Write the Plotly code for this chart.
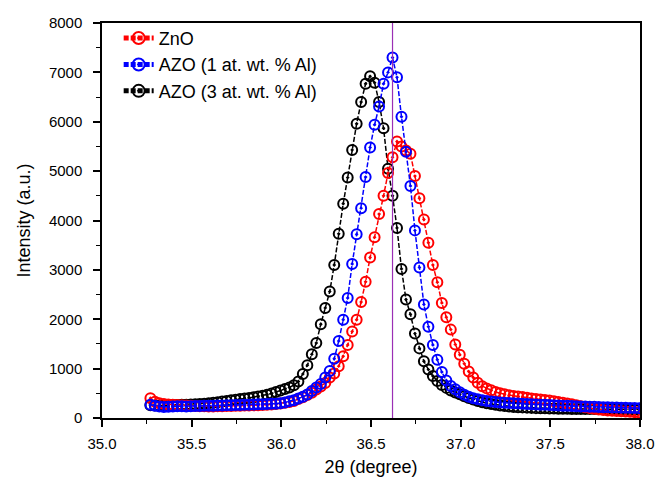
import plotly.graph_objects as go

# 2-theta positions (degree)
theta = [35.27, 35.295, 35.32, 35.345, 35.37, 35.395, 35.42, 35.445, 35.47, 35.495,
         35.52, 35.545, 35.57, 35.595, 35.62, 35.645, 35.67, 35.695, 35.72, 35.745,
         35.77, 35.795, 35.82, 35.845, 35.87, 35.895, 35.92, 35.945, 35.97, 35.995,
         36.02, 36.045, 36.07, 36.095, 36.12, 36.145, 36.17, 36.195, 36.22, 36.245,
         36.27, 36.295, 36.32, 36.345, 36.37, 36.395, 36.42, 36.445, 36.47, 36.495,
         36.52, 36.545, 36.57, 36.595, 36.62, 36.645, 36.67, 36.695, 36.72, 36.745,
         36.77, 36.795, 36.82, 36.845, 36.87, 36.895, 36.92, 36.945, 36.97, 36.995,
         37.02, 37.045, 37.07, 37.095, 37.12, 37.145, 37.17, 37.195, 37.22, 37.245,
         37.27, 37.295, 37.32, 37.345, 37.37, 37.395, 37.42, 37.445, 37.47, 37.495,
         37.52, 37.545, 37.57, 37.595, 37.62, 37.645, 37.67, 37.695, 37.72, 37.745,
         37.77, 37.795, 37.82, 37.845, 37.87, 37.895, 37.92, 37.945, 37.97, 37.995]

zno = [400, 330, 300, 285, 275, 270, 265, 260, 255, 250,
       245, 240, 240, 235, 235, 240, 240, 245, 245, 250,
       250, 255, 255, 260, 260, 265, 270, 275, 285, 295,
       310, 325, 345, 385, 420, 465, 510, 575, 640, 710,
       820, 900, 1050, 1250, 1480, 1750, 1990, 2350, 2760, 3250,
       3660, 4130, 4500, 4960, 5280, 5600, 5500, 5420, 5350, 4900,
       4450, 4020, 3550, 3100, 2750, 2330, 2040, 1790, 1490, 1280,
       1100, 940, 820, 715, 645, 600, 560, 525, 500, 480,
       460, 445, 435, 425, 410, 395, 385, 375, 365, 355,
       340, 325, 310, 295, 280, 260, 240, 220, 200, 185,
       170, 160, 150, 145, 140, 135, 130, 125, 120, 115]

azo1 = [270, 250, 235, 225, 230, 235, 240, 240, 235, 240,
        245, 245, 250, 250, 250, 255, 255, 260, 260, 265,
        265, 270, 270, 275, 280, 280, 285, 290, 290, 300,
        315, 340, 360, 395, 430, 475, 545, 620, 690, 820,
        950, 1200, 1560, 1990, 2430, 3120, 3720, 4250, 4880, 5480,
        5940, 6310, 6770, 7000, 7300, 6900, 6100, 5390, 4700, 3800,
        3050, 2300, 1850, 1480, 1180, 930, 760, 650, 580, 520,
        470, 430, 400, 380, 360, 345, 335, 325, 315, 310,
        305, 300, 295, 290, 285, 280, 275, 270, 268, 265,
        260, 255, 250, 248, 245, 240, 235, 232, 230, 228,
        225, 220, 218, 215, 212, 210, 208, 205, 202, 200]

azo3 = [260, 255, 250, 255, 260, 265, 265, 270, 270, 275,
        280, 285, 290, 300, 310, 320, 335, 345, 360, 370,
        385, 395, 405, 420, 435, 450, 470, 495, 525, 555,
        585, 620, 665, 740, 890, 1070, 1290, 1520, 1900, 2230,
        2560, 3100, 3730, 4340, 4870, 5430, 5960, 6400, 6770, 6920,
        6790, 6400, 5870, 5050, 4500, 3850, 3020, 2400, 2100, 1710,
        1410, 1150, 980, 850, 750, 670, 610, 555, 515, 480,
        440, 405, 375, 345, 320, 300, 285, 270, 255, 245,
        235, 225, 220, 215, 210, 205, 200, 198, 195, 192,
        190, 188, 186, 185, 184, 183, 182, 181, 180, 180,
        180, 180, 178, 178, 176, 176, 175, 175, 174, 174]

series_names = ["ZnO", "AZO (1 at. wt. % Al)", "AZO (3 at. wt. % Al)"]
series_colors = ["#ff0000", "#0000ff", "#000000"]
ref_line_x = 36.62

fig = go.Figure()

def add(name, y, color, rank):
    fig.add_trace(go.Scatter(
        x=theta, y=y, name=name, mode="lines+markers", legendrank=rank,
        line=dict(color=color, width=1.5, dash="5px,2px"),
        marker=dict(symbol="circle-open-dot", size=10, color=color,
                    line=dict(color=color, width=2)),
    ))

add(series_names[2], azo3, series_colors[2], 3)
add(series_names[0], zno, series_colors[0], 1)
add(series_names[1], azo1, series_colors[1], 2)

fig.add_shape(type="line", x0=ref_line_x, x1=ref_line_x, y0=0, y1=8000,
              xref="x", yref="y", line=dict(color="#9a2fb5", width=1.2))

font_family = "Liberation Sans, Arial, sans-serif"
fig.update_layout(
    width=657, height=480,
    margin=dict(l=94, r=25, t=12, b=70),
    paper_bgcolor="white", plot_bgcolor="white",
    font=dict(family=font_family, size=15, color="#000"),
    showlegend=True,
    legend=dict(x=0.031, y=1.008, xanchor="left", yanchor="top",
                bgcolor="rgba(0,0,0,0)", font=dict(size=18),
                tracegroupgap=0, itemsizing="constant"),
)
fig.update_xaxes(
    range=[35.0, 38.0], dtick=0.5, tick0=35.0, tickformat=".1f",
    showgrid=False, zeroline=False, automargin=False,
    showline=True, linecolor="#000", linewidth=1.5, mirror=True,
    ticks="outside", ticklen=7, tickwidth=1.5, tickcolor="#000",
    minor=dict(dtick=0.25, ticks="outside", ticklen=4, tickwidth=1, tickcolor="#000"),
    title=dict(text="2θ (degree)", font=dict(size=18), standoff=10),
    ticklabelstandoff=4,
)
fig.update_yaxes(
    range=[0, 8000], dtick=1000, tick0=0,
    showgrid=False, zeroline=False, automargin=False,
    showline=True, linecolor="#000", linewidth=1.5, mirror=True,
    ticks="outside", ticklen=7, tickwidth=1.5, tickcolor="#000",
    minor=dict(dtick=500, ticks="outside", ticklen=4, tickwidth=1, tickcolor="#000"),
    title=dict(text="Intensity (a.u.)", font=dict(size=18), standoff=14),
    ticklabelstandoff=8,
)

fig.write_html("out.html")
